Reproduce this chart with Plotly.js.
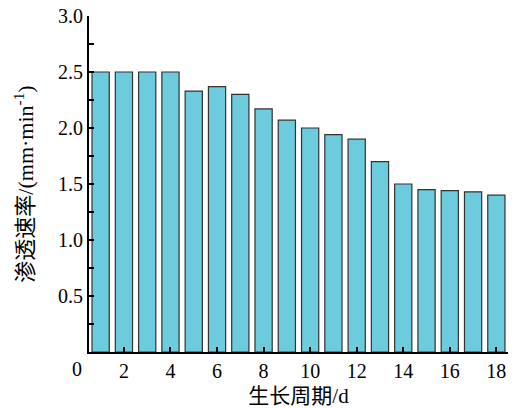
<!DOCTYPE html>
<html>
<head>
<meta charset="utf-8">
<script src="https://cdn.plot.ly/plotly-3.0.1.min.js"></script>
<style>html,body{margin:0;padding:0;background:#fff;}#chart{width:517px;height:408px;}</style>
</head>
<body>
<div id="chart"></div>
<script>
const days = [1,2,3,4,5,6,7,8,9,10,11,12,13,14,15,16,17,18];
const rates = [2.5,2.5,2.5,2.5,2.33,2.37,2.30,2.17,2.07,2.00,1.94,1.90,1.70,1.50,1.45,1.44,1.43,1.40];
const xTickVals = [2,4,6,8,10,12,14,16,18];
const yTickVals = [0.5,1.0,1.5,2.0,2.5,3.0];
const xRange = [0.5, 18.5];
const yRange = [0, 3.0];
const xTitle = '生长周期/d';
const yTitle = '渗透速率/(mm·min<sup>-1</sup>)';

const FONT = '"Liberation Serif", "Times New Roman", "Noto Sans CJK SC", serif';

const trace = {
  type: 'bar',
  x: days,
  y: rates,
  marker: {color: '#6ccbdd', line: {color: '#333333', width: 1.2}},
  hoverinfo: 'x+y'
};

const layout = {
  width: 517, height: 408,
  margin: {l: 89, r: 9, t: 16, b: 56},
  paper_bgcolor: '#ffffff', plot_bgcolor: '#ffffff',
  bargap: 0.26,
  showlegend: false,
  font: {family: FONT, size: 20, color: '#000'},
  xaxis: {
    range: xRange, tickvals: xTickVals, ticktext: xTickVals.map(String),
    ticks: 'inside', ticklen: 5, tickwidth: 2, tickcolor: '#000',
    showline: true, linecolor: '#000', linewidth: 2,
    showgrid: false, zeroline: false,
    tickfont: {family: FONT, size: 20},
    title: {text: xTitle, font: {family: FONT, size: 21}, standoff: 10}
  },
  yaxis: {
    range: yRange, tickformat: '.1f',
    tickvals: yTickVals,
    ticks: 'inside', ticklen: 5, tickwidth: 2, tickcolor: '#000',
    minor: {dtick: 0.25, ticks: 'inside', ticklen: 5, tickwidth: 2, tickcolor: '#000'},
    showline: true, linecolor: '#000', linewidth: 2,
    showgrid: false, zeroline: false,
    tickfont: {family: FONT, size: 20},
    title: {text: yTitle, font: {family: FONT, size: 22}, standoff: 18}
  },
  annotations: [{
    xref: 'paper', yref: 'paper',
    x: (0 - xRange[0]) / (xRange[1] - xRange[0]), y: 0,
    xanchor: 'center', yanchor: 'top', yshift: -4,
    text: '0', showarrow: false, font: {family: FONT, size: 20, color: '#000'}
  }]
};

Plotly.newPlot('chart', [trace], layout, {displayModeBar: false, staticPlot: true});
</script>
</body>
</html>
